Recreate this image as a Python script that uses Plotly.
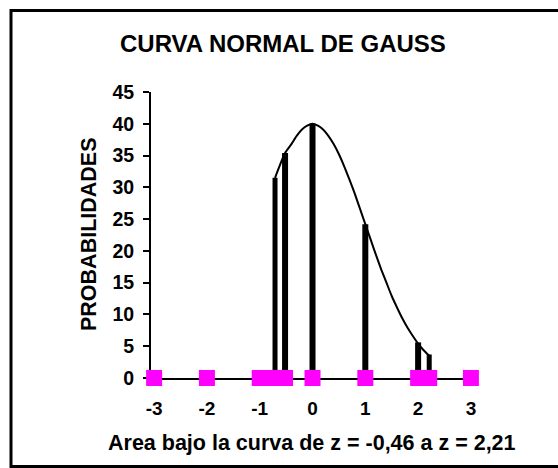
import plotly.graph_objects as go

# ---- data ----
marker_z = [-3, -2, -1, -0.71, -0.52, 0, 1, 2, 2.21, 3]
marker_p = [0, 0, 0, 0, 0, 0, 0, 0, 0, 0]

bar_z = [-0.71, -0.52, 0, 1, 2, 2.21]
bar_p = [31.5, 35.4, 40.0, 24.2, 5.6, 3.7]
bar_w = [5, 6, 6, 6, 6, 5]

curve_z = [-0.71, -0.52, -0.4, -0.3, -0.2, -0.1, 0, 0.1, 0.2, 0.3, 0.4, 0.5, 0.6, 0.7,
           0.8, 0.9, 1.0, 1.1, 1.2, 1.3, 1.4, 1.5, 1.6, 1.7, 1.8, 1.9, 2.0, 2.1, 2.21]
curve_p = [31.5, 35.4, 36.8, 38.1, 39.1, 39.7, 40.0, 39.7, 39.1, 38.1, 36.8, 35.2, 33.3, 31.2,
           29.0, 26.6, 24.2, 21.8, 19.4, 17.1, 15.0, 12.9, 11.1, 9.4, 7.9, 6.6, 5.4, 4.4, 3.5]

x_ticks = [-3, -2, -1, 0, 1, 2, 3]
y_ticks = [0, 5, 10, 15, 20, 25, 30, 35, 40, 45]

title_text = "CURVA NORMAL DE GAUSS"
x_title = "Area bajo la curva de z = -0,46 a z = 2,21"
y_title = "PROBABILIDADES"

# ---- layout geometry ----
W, H = 558, 468
L, R, T, B = 151, 80, 92, 90
PW, PH = W - L - R, H - T - B
FONT = "Arial, Liberation Sans, sans-serif"


def px(x):
    return (x - L) / PW


def py(y):
    return (H - B - y) / PH


fig = go.Figure()

for z, p, w in zip(bar_z, bar_p, bar_w):
    fig.add_trace(go.Scatter(x=[z, z], y=[0, p], mode="lines",
                             line=dict(color="black", width=w),
                             showlegend=False, hoverinfo="skip"))

fig.add_trace(go.Scatter(x=curve_z, y=curve_p, mode="lines",
                         line=dict(color="black", width=2, shape="spline", smoothing=0.6),
                         showlegend=False))

fig.add_trace(go.Scatter(x=marker_z, y=marker_p, mode="markers",
                         marker=dict(symbol="square", size=16, color="#FF00FF",
                                     line=dict(width=0)),
                         cliponaxis=False, showlegend=False))

fig.update_layout(
    width=W, height=H,
    margin=dict(l=L, r=R, t=T, b=B),
    paper_bgcolor="white", plot_bgcolor="white",
    showlegend=False,
    xaxis=dict(range=[-3.059, 3.134], tickvals=x_ticks, ticktext=[str(v) for v in x_ticks],
               showgrid=False, zeroline=False, showline=True, linecolor="black",
               linewidth=2, ticks="", layer="below traces", ticklabelstandoff=12,
               tickfont=dict(family=FONT, size=19, color="black", weight="bold")),
    yaxis=dict(range=[0, 45], tickvals=y_ticks, showgrid=False, zeroline=False,
               showline=True, linecolor="black", linewidth=2, ticks="outside",
               ticklen=6, tickwidth=2, tickcolor="black", layer="below traces",
               ticklabelstandoff=5,
               tickfont=dict(family=FONT, size=19.5, color="black", weight="bold")),
    shapes=[dict(type="rect", xref="paper", yref="paper",
                 x0=px(11), x1=px(575), y0=py(466.5), y1=py(10.5),
                 line=dict(color="black", width=3))],
    annotations=[
        dict(text="<b>" + title_text + "</b>", xref="paper", yref="paper",
             x=px(283), y=py(43), xanchor="center", yanchor="middle", showarrow=False,
             font=dict(family=FONT, size=24, color="black")),
        dict(text="<b>" + y_title + "</b>", xref="paper", yref="paper",
             x=px(89), y=py(234), xanchor="center", yanchor="middle", showarrow=False,
             textangle=-90, font=dict(family=FONT, size=21.5, color="black")),
        dict(text="<b>" + x_title + "</b>", xref="paper", yref="paper",
             x=px(312), y=py(443), xanchor="center", yanchor="middle", showarrow=False,
             font=dict(family=FONT, size=21.5, color="black")),
    ],
)

fig.write_html("out.html", config={"displayModeBar": False},
               post_script="document.body.style.margin='0';document.body.style.overflow='hidden';")
